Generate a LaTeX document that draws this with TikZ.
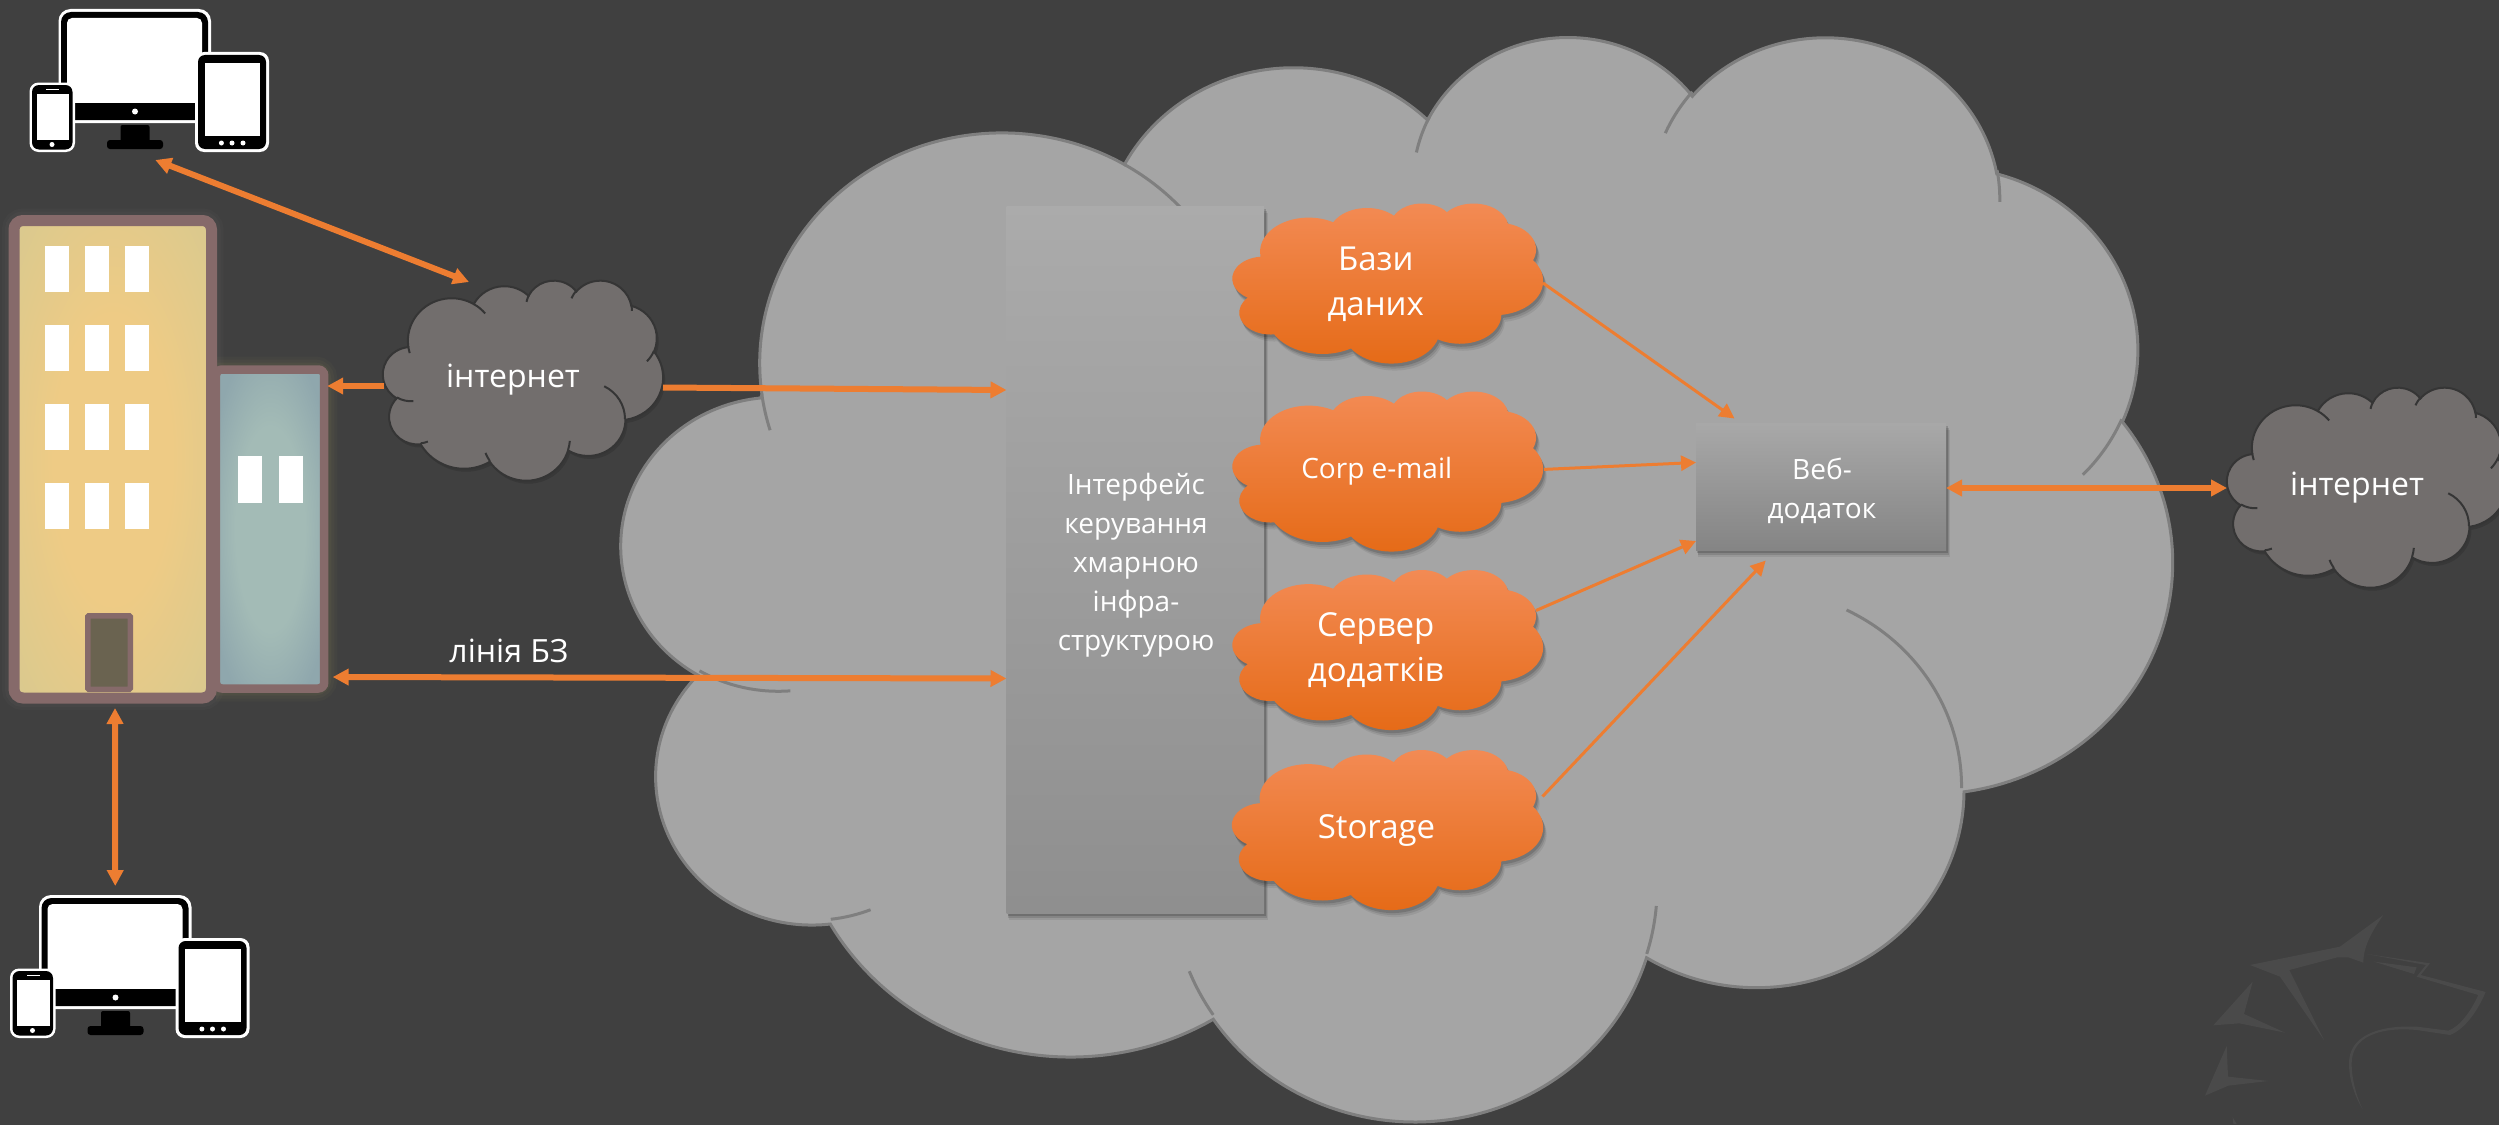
\documentclass[tikz,border=0pt]{standalone}
\usepackage{fontspec}
\setmainfont{Open Sans}
\usetikzlibrary{arrows.meta,calc}
\definecolor{bgc}{HTML}{404040}
\definecolor{arrowc}{HTML}{ED7D31}
\definecolor{bigc}{HTML}{A5A5A5}
\definecolor{bigl}{HTML}{7F7F7F}
\definecolor{netc}{HTML}{726E6D}
\definecolor{netl}{HTML}{353535}
\definecolor{bldl}{HTML}{866A6A}
\definecolor{wolfc}{HTML}{4A4A4A}
\definecolor{annexin}{HTML}{A3BBB6}
\definecolor{annexout}{HTML}{8FA7AD}
\definecolor{towerin}{HTML}{EECB85}
\definecolor{towerout}{HTML}{D8C98F}
\definecolor{doorc}{HTML}{6A6350}
\definecolor{orangeT}{HTML}{F38B55}
\definecolor{orangeM}{HTML}{F97E2B}
\definecolor{orangeB}{HTML}{E56A16}
\pgfdeclareradialshading{towerglow}{\pgfpoint{0bp}{0bp}}{color(0bp)=(towerin); color(15bp)=(towerin); color(36bp)=(towerout); color(100bp)=(towerout)}
\pgfdeclareradialshading{annexglow}{\pgfpoint{0bp}{0bp}}{color(0bp)=(annexin); color(16bp)=(annexin); color(30bp)=(annexout); color(100bp)=(annexout)}
% --- cloud geometry: one arc per macro, angles turned into ellipse parameters
\newcommand\mkarc[5]{%
  \pgfmathsetmacro\tmpa{#4}%
  \pgfmathsetmacro\tmpb{#4+#5}%
  \pgfmathsetmacro\tmpc{atan2(#2*sin(\tmpa),#3*cos(\tmpa))}%
  \pgfmathsetmacro\tmpd{atan2(#2*sin(\tmpb),#3*cos(\tmpb))}%
  \pgfmathsetmacro\tmpd{\tmpd<\tmpc ? \tmpd+360 : \tmpd}%
  \pgfmathsetmacro\tmpc{-\tmpc}%
  \pgfmathsetmacro\tmpd{-\tmpd}%
  \expandafter\xdef\csname arc#1\endcsname{arc[start angle=\tmpc, end angle=\tmpd, x radius=#2*\noexpand\cw pt, y radius=#3*\noexpand\ch pt]}%
}
\mkarc{A}{67.53}{91.90}{-190.4875}{123.7805}
\mkarc{B}{53.33}{72.67}{-144.1024}{89.9452}
\mkarc{C}{43.65}{59.45}{-145.8079}{99.7230}
\mkarc{D}{48.57}{65.95}{-130.9861}{117.2417}
\mkarc{E}{53.33}{72.73}{-78.7089}{109.0269}
\mkarc{F}{67.75}{92.20}{-46.2673}{130.2690}
\mkarc{G}{57.85}{78.67}{0.6250}{114.0333}
\mkarc{H}{67.52}{92.15}{22.4516}{115.1726}
\mkarc{I}{77.20}{105.43}{66.2426}{75.7110}
\mkarc{J}{43.60}{59.18}{-274.9421}{146.7356}
\mkarc{K}{43.45}{59.45}{-246.8285}{152.5189}
\mkarc{a}{43.45}{59.45}{86.742}{26.4295}
\mkarc{b}{43.60}{59.18}{73.6105}{11.4475}
\mkarc{c}{67.52}{92.15}{137.6242}{14.0811}
\mkarc{d}{67.52}{92.15}{6.4533}{15.9984}
\mkarc{e}{57.85}{78.67}{-69.88}{70.5}
\mkarc{f}{53.33}{72.73}{30.3180}{22.7310}
\mkarc{g}{48.57}{65.95}{-13.7443}{14.8635}
\mkarc{h}{48.57}{65.95}{-149.6}{18.6090}
\mkarc{i}{43.65}{59.45}{-164.0}{18.1898}
\mkarc{j}{67.53}{91.90}{-66.7}{18.0}
\mkarc{k}{67.53}{91.90}{157.5}{12.0}
\newcommand\cloudat[4]{% left top width height
  \def\cx{#1}\def\cy{#2}%
  \pgfmathsetmacro\cw{#3/432}\pgfmathsetmacro\ch{#4/432}}
\newcommand\cloudouter{(\cx+39*\cw,\cy+143.7*\ch) \arcA \arcB \arcC \arcD \arcE \arcF \arcG \arcH \arcI \arcJ \arcK -- cycle}
\newcommand\cloudinner{
  (\cx+46.93*\cw,\cy+261.77*\ch) \arca
  (\cx+69.28*\cw,\cy+348.99*\ch) \arcb
  (\cx+164.78*\cw,\cy+390.90*\ch) \arcc
  (\cx+288.27*\cw,\cy+347.51*\ch) \arcd
  (\cx+341.29*\cw,\cy+229.54*\ch) \arce
  (\cx+417.98*\cw,\cy+153.54*\ch) \arcf
  (\cx+383.24*\cw,\cy+54.26*\ch) \arcg
  (\cx+290.78*\cw,\cy+39.52*\ch) \arch
  (\cx+221.41*\cw,\cy+47.20*\ch) \arci
  (\cx+140.02*\cw,\cy+51.99*\ch) \arcj
  (\cx+41.27*\cw,\cy+157.89*\ch) \arck}
\newcommand\orangecloud[5]{% name left top width height
  \cloudat{#2}{#3}{#4}{#5}%
  \foreach \s/\o in {7/.07,5/.10,3/.14}{\fill[black,opacity=\o,shift={(\s/2,\s)}] \cloudouter;}
  \path[top color=orangeT,middle color=orangeM,bottom color=orangeB] \cloudouter;
  \node[boxstyle,minimum width=#4pt,minimum height=#5pt] (#1) at (#2+#4/2,#3+#5/2) {};}
\newcommand\netcloud[5]{%
  \cloudat{#2}{#3}{#4}{#5}%
  \fill[black,opacity=.12,shift={(2,3)}] \cloudouter;
  \filldraw[fill=netc,draw=netl,line width=2pt] \cloudouter;
  \draw[draw=netl,line width=2pt] \cloudinner;
  \node[boxstyle,minimum width=#4pt,minimum height=#5pt] (#1) at (#2+#4/2,#3+#5/2) {};}
\newcommand\devicesat[3]{% name dx dy (drawn for the upper position)
  \begin{scope}[shift={(#2,#3)}]
    \fill[white,rounded corners=12pt] (58.5,9) rectangle (211,123);
    \fill[black,rounded corners=10pt] (61,12) rectangle (208,120);
    \fill[white,rounded corners=5pt] (67,18) rectangle (202,110);
    \fill[black] (62,103) rectangle (207,120);
    \fill[white] (135,111.5) circle (3pt);
    \fill[black,rounded corners=2pt] (120.5,125) rectangle (149.5,142);
    \fill[black,rounded corners=3pt] (107,140) rectangle (163,149);
    \fill[white,rounded corners=9pt] (29.5,82.5) rectangle (75,152);
    \fill[black,rounded corners=7pt] (32,85) rectangle (72.5,149.5);
    \fill[white] (36.6,94) rectangle (69,140);
    \fill[white] (46,88.9) rectangle (59,90.1);
    \fill[white] (52,144.5) circle (2.5pt);
    \fill[white,rounded corners=9pt] (195,52) rectangle (269,152);
    \fill[black,rounded corners=7pt] (198,55) rectangle (266,149);
    \fill[white] (204.5,63) rectangle (260,136);
    \fill[white] (221.4,143) circle (2.5pt) (232,143) circle (2.5pt) (243,143) circle (2.5pt);
    \node[boxstyle,minimum width=239.5pt,minimum height=143pt] (#1) at (149.25,80.5) {};
  \end{scope}}
\tikzset{
  boxstyle/.style={rectangle,inner sep=0pt,outer sep=0pt},
  windowbox/.style={fill=white},
  thick arrow/.style={draw=arrowc,line width=6pt,-{Triangle[length=16pt,width=16pt]}},
  thick both/.style={draw=arrowc,line width=6pt,{Triangle[length=16pt,width=16pt]}-{Triangle[length=16pt,width=16pt]}},
  thin arrow/.style={draw=arrowc,line width=3pt,-{Triangle[length=15pt,width=15pt]}},
  label big/.style={text=white,align=center,inner sep=0pt,font=\fontsize{33}{45}\selectfont},
  label mid/.style={text=white,align=center,inner sep=0pt,font=\fontsize{28}{39}\selectfont},
  label open/.style={text=white,align=center,inner sep=0pt,font=\fontsize{32}{39}\selectfont},
}
\begin{document}
\begin{tikzpicture}[x=1pt,y=-1pt]
\useasboundingbox (0,0) rectangle (2499,1124);
\clip (-3,-3) rectangle (2502,1127);
\fill[bgc] (-3,-3) rectangle (2502,1127);
% watermark
\begin{scope}[shift={(2100,840)},x=0.3333pt,y=-0.3333pt]
  \fill[wolfc] (850,225) .. controls (815,275) and (790,320) .. (790,368) -- (745,352) -- (712,352) -- (568,390) -- (672,600) -- (540,410) -- (450,375) -- (720,320) -- cycle;
  \fill[wolfc] (458,425) -- (432,522) -- (555,578) -- (418,550) -- (340,556) -- cycle;
  \fill[wolfc] (380,618) -- (384,710) -- (505,723) -- (385,737) -- (315,767) -- cycle;
  \fill[wolfc] (800,342) -- (990,370) -- (962,405) -- (1157,456) .. controls (1130,520) and (1090,570) .. (1050,585) -- (950,570) .. controls (840,560) and (755,590) .. (755,670) .. controls (755,720) and (770,770) .. (788,808) .. controls (765,770) and (747,720) .. (747,670) .. controls (747,590) and (830,555) .. (950,560) -- (1045,572) .. controls (1080,560) and (1115,510) .. (1135,465) -- (950,410) -- (978,375) -- cycle;
  \fill[wolfc] (822,365) -- (950,382) -- (942,402) -- cycle;
  \fill[wolfc] (398,832) -- (410,852) -- (400,852) -- cycle;
\end{scope}
% large cloud
\cloudat{622}{34}{1550}{1084}
\filldraw[fill=bigc,draw=bigl,line width=3pt] \cloudouter;
\draw[draw=bigl,line width=3pt] \cloudinner;
\node[boxstyle,minimum width=1550pt,minimum height=1084pt] (sky) at (1397,576) {};
% interface panel
\foreach \s/\o in {7/.08,5/.12,3/.16}{\fill[black,opacity=\o] (1006.5+\s/3,206+\s) rectangle (1264+\s/2,913+\s);}
\node[boxstyle,minimum width=257.5pt,minimum height=707pt,top color=black!33,bottom color=black!44] (iface) at (1135.25,559.5) {};
\node[label mid] (ifacet) at (1136,565) {Інтерфейс\\керування\\хмарною\\інфра-\\структурою};
% web application box
\foreach \s/\o in {7/.08,5/.12,3/.16}{\fill[black,opacity=\o] (1696+\s/3,423+\s) rectangle (1946+\s/2,550+\s);}
\node[boxstyle,minimum width=250pt,minimum height=127pt,top color=black!34,bottom color=black!48] (web) at (1821,486.5) {};
\node[label mid] (webt) at (1822,490.5) {Веб-\\додаток};
% service clouds
\orangecloud{db}{1232.5}{203}{310.5}{160}
\orangecloud{mail}{1232.5}{391}{310.5}{160}
\orangecloud{srv}{1232.5}{569.5}{310.5}{160}
\orangecloud{stor}{1232}{749.5}{311}{160}
\node[label big] (dbt) at ($(db)+(-12,1)$) {Бази\\даних};
\node[label mid] (mailt) at ($(mail)+(-11,0)$) {Corp e-mail};
\node[label big] (srvt) at ($(srv)+(-12,1)$) {Сервер\\додатків};
\node[label big] (stort) at ($(stor)+(-11,1)$) {Storage};
% internet clouds
\netcloud{inet1}{383}{280}{280}{200}
\netcloud{inet2}{2227}{387}{280}{200}
\node[label open] (inet1t) at ($(inet1)+(-10,0)$) {інтернет};
\node[label open] (inet2t) at ($(inet2)+(-10,1)$) {інтернет};
\node[label open] (zvt) at (509,651) {лінія БЗ};
% devices
\devicesat{devtop}{0}{0}
\devicesat{devbot}{-19.5}{886}
% glow of the buildings
\foreach \w/\o in {26/.03,20/.04,14/.05}{\draw[olive!50!white,opacity=\o,line width=\w pt,rounded corners=9pt] (216,369.5) -- (324.25,369.5) -- (324.25,688.5) -- (216,688.5);}
\foreach \w/\o in {24/.03,18/.04}{\draw[bldl!60!white,opacity=\o,line width=\w pt,rounded corners=9pt] (14,220.5) rectangle (211.5,698);}
% small building
\node[boxstyle,draw=bldl,line width=8.5pt,rounded corners=6pt,minimum width=108.25pt,minimum height=319pt,shade,shading=annexglow] (small) at (270.1,529) {};
% tall building
\node[boxstyle,draw=bldl,line width=11pt,rounded corners=9pt,minimum width=197.5pt,minimum height=477.5pt,shade,shading=towerglow] (tower) at (112.75,459.25) {};
\foreach \x in {44.6,84.8,125.4}{\foreach \y in {245.6,324.6,404,483}{\fill[windowbox] (\x,\y) rectangle (\x+24,\y+46.2);}}
\foreach \x in {238,279}{\fill[windowbox] (\x,456.4) rectangle (\x+24,503);}
\node[boxstyle,draw=bldl,line width=5.5pt,rounded corners=1pt,fill=doorc,minimum width=42.5pt,minimum height=73.5pt] (door) at (109,652.5) {};
% connectors
\draw[thick both] ($(devtop.south)+(6,8)$) -- ($(inet1.north)+(-54,2)$);
\draw[thick arrow] ($(inet1.west)+(1,6)$) -- ($(small.east)+(3,-143)$);
\draw[thick arrow] ($(inet1.east)+(0,7.5)$) -- ($(iface.west)+(0,-169.5)$);
\draw[thick both] ($(small.east)+(8.5,148)$) -- ($(iface.west)+(0,119)$);
\draw[thick both] ($(tower.south)+(2.25,10)$) -- ($(devbot.north)+(-14.5,-9)$);
\draw[thick both] ($(web.east)+(0,1.5)$) -- ($(inet2.west)+(0,1)$);
\draw[thin arrow] (db.east) -- ($(web.north)+(-86.5,-4.5)$);
\draw[thin arrow] ($(mail.east)+(1,-1.6)$) -- ($(web.west)+(0,-24)$);
\draw[thin arrow] ($(srv.east)+(-7,-39)$) -- ($(web.west)+(0,54.5)$);
\draw[thin arrow] ($(stor.east)+(-0.5,-33)$) -- ($(web.south)+(-55.3,10.5)$);
\end{tikzpicture}
\end{document}
